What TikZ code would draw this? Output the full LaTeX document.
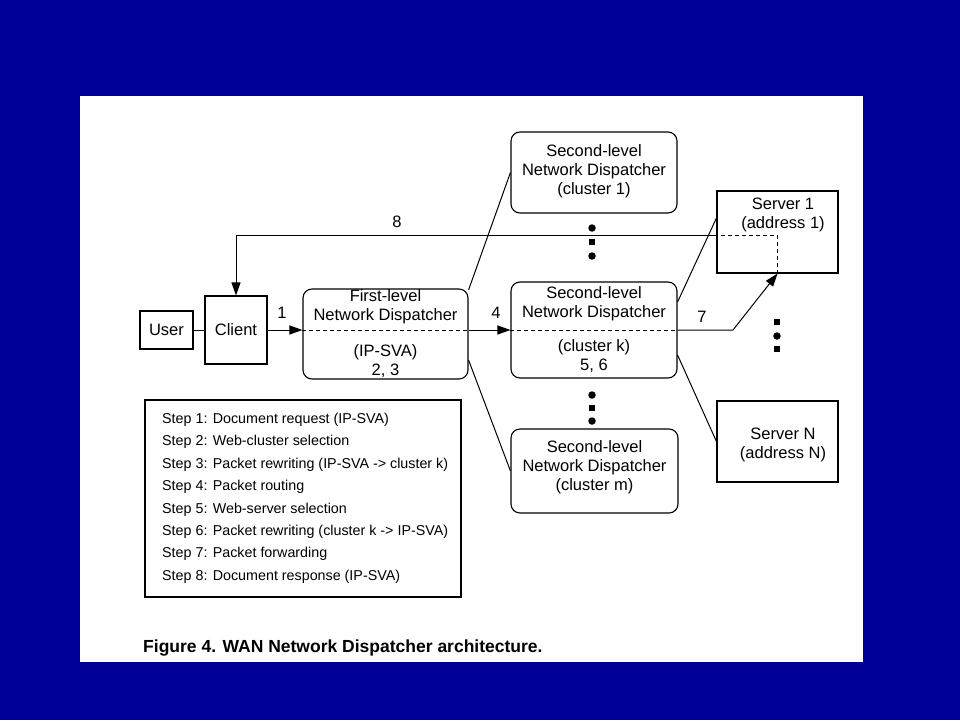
\documentclass[tikz,border=0pt]{standalone}
\usepackage{fontspec}
\setmainfont{Liberation Sans}
\usetikzlibrary{arrows.meta}
\definecolor{bgblue}{RGB}{0,0,150}
\begin{document}
\begin{tikzpicture}[x=1pt,y=-1pt,
  box/.style={draw, line width=1.1pt, inner sep=0pt},
  rbox/.style={box, rounded corners=9pt},
  txt/.style={font=\fontsize{16.5}{19}\selectfont, align=center, inner sep=0pt},
  steptxt/.style={font=\fontsize{14.3}{17}\selectfont, inner sep=0pt, text height=10pt, text depth=3pt, anchor=west},
  conn/.style={line width=1pt},
  arr/.style={conn, -{Triangle[length=13pt,width=9pt]}},
  dsh/.style={conn, dash pattern=on 4pt off 3pt},
  dotc/.style={circle, fill, inner sep=0pt, minimum size=7.5pt},
  dotsq/.style={rectangle, fill, inner sep=0pt, minimum size=6.5pt}]
\fill[bgblue] (0,0) rectangle (960,720);
\fill[white] (80,96) rectangle (863,662);
\useasboundingbox (0,0) rectangle (960,720);

% boxes
\node[box, minimum width=53pt, minimum height=38pt] (user) at (166.5,330) {};
\node[txt] (usert) at (user.center) {User};
\node[box, minimum width=62pt, minimum height=68pt] (client) at (236,330) {};
\node[txt] (clientt) at (client.center) {Client};
\node[rbox, minimum width=165pt, minimum height=90pt] (fl) at (385.5,334) {};
\node[txt] (flt1) at (385.5,307) {First-level\\Network Dispatcher};
\node[txt] (flt2) at (385.5,361) {(IP-SVA)\\2, 3};
\node[rbox, minimum width=166pt, minimum height=96pt] (k) at (594,330) {};
\node[txt] (kt1) at (594,304) {Second-level\\Network Dispatcher};
\node[txt] (kt2) at (594,356) {(cluster k)\\5, 6};
\node[rbox, minimum width=166pt, minimum height=81pt] (c1) at (594,172.5) {};
\node[txt] (c1t) at (594,171) {Second-level\\Network Dispatcher\\(cluster 1)};
\node[rbox, minimum width=167pt, minimum height=84pt] (cm) at (594.5,471) {};
\node[txt] (cmt) at (594.5,467) {Second-level\\Network Dispatcher\\(cluster m)};
\node[box, minimum width=121pt, minimum height=82pt] (s1) at (777.5,232) {};
\node[txt] (s1t) at (783,214.5) {Server 1\\(address 1)};
\node[box, minimum width=121pt, minimum height=81pt] (sN) at (777.5,441.5) {};
\node[txt] (sNt) at (783,444.5) {Server N\\(address N)};

% steps
\node[box, minimum width=316pt, minimum height=197pt] (steps) at (303,498.5) {};
\node[steptxt] (st1) at (162,420) {Step 1: Document request (IP-SVA)};
\node[steptxt] (st2) at (162,442.4) {Step 2: Web-cluster selection};
\node[steptxt] (st3) at (162,464.8) {Step 3: Packet rewriting (IP-SVA -> cluster k)};
\node[steptxt] (st4) at (162,487.2) {Step 4: Packet routing};
\node[steptxt] (st5) at (162,509.6) {Step 5: Web-server selection};
\node[steptxt] (st6) at (162,532) {Step 6: Packet rewriting (cluster k -> IP-SVA)};
\node[steptxt] (st7) at (162,554.4) {Step 7: Packet forwarding};
\node[steptxt] (st8) at (162,576.8) {Step 8: Document response (IP-SVA)};

\node[anchor=west, inner sep=0pt, font=\bfseries\fontsize{17.5}{20}\selectfont] (cap) at (143,648) {Figure 4. WAN Network Dispatcher architecture.};

% connectors
\draw[conn] (user.east) -- (client.west);
\draw[arr] (client.east) -- (fl.west |- client.east);
\draw[dsh] (fl.west |- k.west) -- (fl.east |- k.west);
\draw[arr] (fl.east |- k.west) -- (k.west);
\draw[dsh] (k.west) -- (k.east);
\coordinate (bend7) at (733,330);
\coordinate (top8) at (500,235);
\draw[arr] (k.east) -- (bend7) -- (s1.south);
\draw[dsh] (s1.south) -- (s1.south |- top8) -- (s1.west |- top8);
\draw[arr] (s1.west |- top8) -- (client.north |- top8) -- (client.north);

\draw[conn] ([yshift=44pt]fl.east) -- (c1.west);
\draw[conn] ([yshift=-26pt]fl.east) -- (cm.west);
\draw[conn] ([yshift=28pt]k.east) -- ([yshift=14pt]s1.west);
\draw[conn] ([yshift=-25pt]k.east) -- (sN.west);

% labels
\node[txt] (l8) at (397,222) {8};
\node[txt] (l1) at (282,313) {1};
\node[txt] (l4) at (496,313) {4};
\node[txt] (l7) at (702,317) {7};

% dots
\node[dotc] (d1) at (592,228) {};
\node[dotsq] (d2) at (592,242) {};
\node[dotc] (d3) at (592,256) {};
\node[dotc] (d4) at (592,395) {};
\node[dotsq] (d5) at (592,408) {};
\node[dotc] (d6) at (592,421) {};
\node[dotsq] (d7) at (777,322) {};
\node[dotc] (d8) at (777,336) {};
\node[dotsq] (d9) at (777,349) {};
\end{tikzpicture}
\end{document}
